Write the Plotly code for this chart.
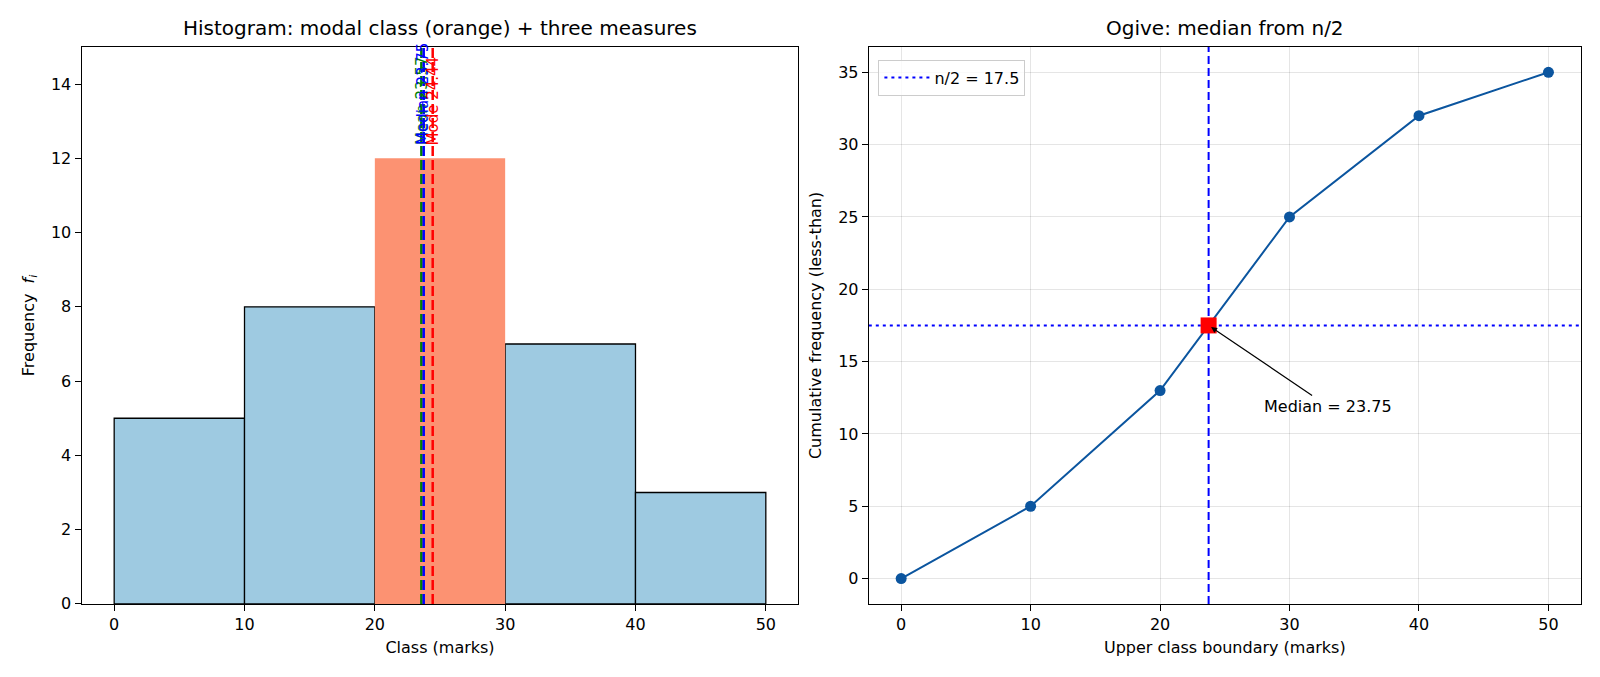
import plotly.graph_objects as go

# Data
class_lower = [0, 10, 20, 30, 40]
class_upper = [10, 20, 30, 40, 50]
freq = [5, 8, 12, 7, 3]
modal_index = 2
mean_val = 23.57
median_val = 23.75
mode_val = 24.44
measure_names = ["Mean", "Median", "Mode"]
measure_values = [mean_val, median_val, mode_val]
measure_colors = ["green", "blue", "red"]

ogive_x = [0, 10, 20, 30, 40, 50]
ogive_y = [0, 5, 13, 25, 32, 35]
half_n = 17.5

FONT = "DejaVu Sans"
TICK = 16
LAB = 16
TITLE = 20
fig = go.Figure()

mids = [(a + b) / 2 for a, b in zip(class_lower, class_upper)]
widths = [b - a for a, b in zip(class_lower, class_upper)]

fig.add_trace(go.Bar(
    x=[m for i, m in enumerate(mids) if i != modal_index],
    y=[f for i, f in enumerate(freq) if i != modal_index],
    width=[w for i, w in enumerate(widths) if i != modal_index],
    marker=dict(color="#9ecae1", line=dict(color="black", width=1.3)),
    xaxis="x", yaxis="y", showlegend=False))
fig.add_trace(go.Bar(
    x=[mids[modal_index]], y=[freq[modal_index]], width=[widths[modal_index]],
    marker=dict(color="#fc9272", line=dict(width=0)),
    xaxis="x", yaxis="y", showlegend=False))

for name, v, c in zip(measure_names, measure_values, measure_colors):
    fig.add_trace(go.Scatter(x=[v, v], y=[0, 15], mode="lines",
                             line=dict(color=c, width=2.5, dash="10px,4px"),
                             xaxis="x", yaxis="y", showlegend=False, hoverinfo="skip"))
    fig.add_annotation(x=v, y=12.3, xref="x", yref="y", text=f"{name} {v:.2f}",
                       textangle=-90, showarrow=False, yanchor="bottom", xanchor="center",
                       font=dict(family=FONT, size=15, color=c))

fig.add_trace(go.Scatter(x=[-2.5, 52.5], y=[half_n, half_n], mode="lines",
                         line=dict(color="blue", width=2, dash="3px,4px"),
                         name=f"n/2 = {half_n}", xaxis="x2", yaxis="y2"))
fig.add_trace(go.Scatter(x=[median_val, median_val], y=[-1.75, 36.75], mode="lines",
                         line=dict(color="blue", width=2, dash="8px,4px"),
                         xaxis="x2", yaxis="y2", showlegend=False, hoverinfo="skip"))
fig.add_trace(go.Scatter(x=ogive_x, y=ogive_y, mode="lines+markers",
                         line=dict(color="#0b559f", width=2),
                         marker=dict(color="#0b559f", size=11),
                         xaxis="x2", yaxis="y2", showlegend=False))
fig.add_trace(go.Scatter(x=[median_val], y=[half_n], mode="markers",
                         marker=dict(color="red", size=16, symbol="square"),
                         xaxis="x2", yaxis="y2", showlegend=False))
fig.add_annotation(x=median_val, y=half_n, xref="x2", yref="y2",
                   ax=33, ay=11.9, axref="x2", ayref="y2",
                   text=f"Median = {median_val}", showarrow=True,
                   arrowhead=2, arrowsize=1, arrowwidth=1.2, arrowcolor="black",
                   standoff=3, font=dict(family=FONT, size=LAB, color="black"))

axis_common = dict(showline=True, linecolor="black", linewidth=1.2, mirror=True,
                   ticks="outside", ticklen=6, tickcolor="black", automargin=False,
                   tickfont=dict(family=FONT, size=TICK, color="black"), zeroline=False)

fig.update_layout(
    width=1600, height=677, margin=dict(l=0, r=0, t=0, b=0),
    plot_bgcolor="white", paper_bgcolor="white", barmode="overlay",
    font=dict(family=FONT, color="black"),
    xaxis=dict(domain=[0.051, 0.499], range=[-2.5, 52.5], tickvals=[0, 10, 20, 30, 40, 50],
               showgrid=False, anchor="y",
               title=dict(text="Class (marks)", font=dict(family=FONT, size=LAB), standoff=8),
               **axis_common),
    yaxis=dict(domain=[0.108, 0.9306], range=[0, 15], tickvals=[0, 2, 4, 6, 8, 10, 12, 14],
               showgrid=False, anchor="x",
               title=dict(text="Frequency  <i>f</i><sub><i>i</i></sub>", font=dict(family=FONT, size=LAB), standoff=12),
               **axis_common),
    xaxis2=dict(domain=[0.543, 0.988], range=[-2.5, 52.5], tickvals=[0, 10, 20, 30, 40, 50],
                showgrid=True, gridcolor="rgba(0,0,0,0.1)", anchor="y2",
                title=dict(text="Upper class boundary (marks)", font=dict(family=FONT, size=LAB), standoff=8),
                **axis_common),
    yaxis2=dict(domain=[0.108, 0.9306], range=[-1.75, 36.75], tickvals=[0, 5, 10, 15, 20, 25, 30, 35],
                showgrid=True, gridcolor="rgba(0,0,0,0.1)", anchor="x2",
                title=dict(text="Cumulative frequency (less-than)", font=dict(family=FONT, size=LAB), standoff=12),
                **axis_common),
    legend=dict(x=0.549, y=0.912, xanchor="left", yanchor="top", itemwidth=45,
                bgcolor="rgba(255,255,255,0.8)", bordercolor="#cccccc", borderwidth=1,
                font=dict(family=FONT, size=LAB)),
    showlegend=True,
)

fig.add_annotation(text="Histogram: modal class (orange) + three measures", x=0.275, y=0.938,
                   xref="paper", yref="paper", showarrow=False, xanchor="center", yanchor="bottom",
                   font=dict(family=FONT, size=TITLE))
fig.add_annotation(text="Ogive: median from n/2", x=0.7655, y=0.938,
                   xref="paper", yref="paper", showarrow=False, xanchor="center", yanchor="bottom",
                   font=dict(family=FONT, size=TITLE))

fig.write_html("out.html")
